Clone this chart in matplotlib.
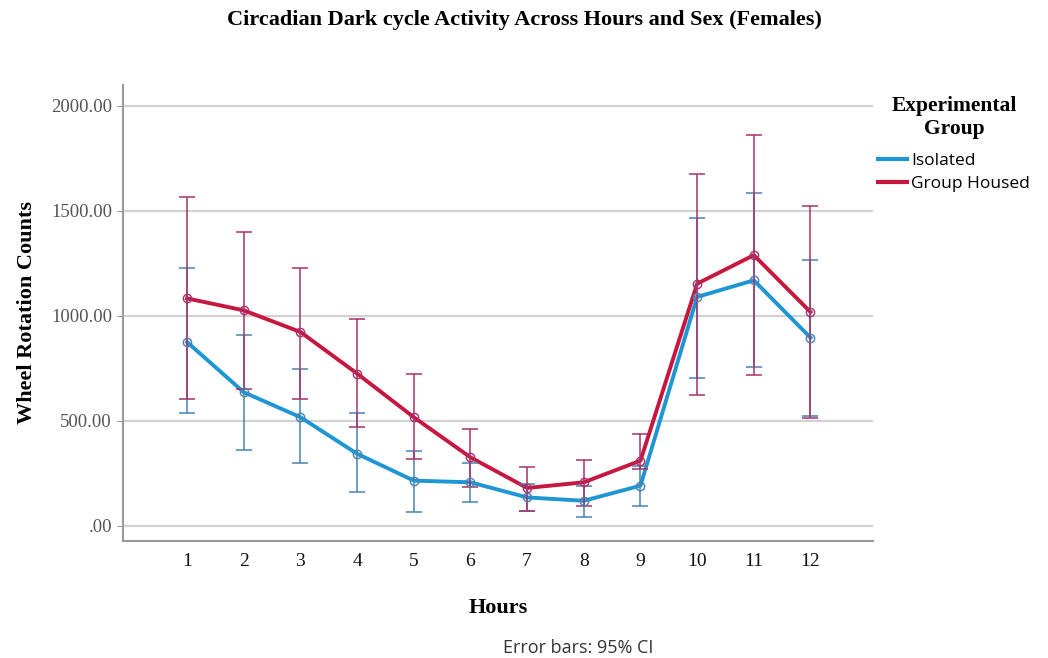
import matplotlib.pyplot as plt
import numpy as np

# wheel rotation counts per hour of the dark cycle, females
hours = np.arange(1, 13)
hour_labels = [str(h) for h in hours]

iso_mean = [875, 636, 517, 343, 215, 207, 135, 119, 191, 1090, 1169, 896]
iso_lo = [535, 363, 297, 159, 66, 111, 70, 40, 95, 705, 756, 525]
iso_hi = [1227, 907, 749, 535, 358, 300, 200, 190, 285, 1468, 1583, 1265]

grp_mean = [1083, 1026, 923, 725, 517, 326, 180, 207, 310, 1153, 1289, 1018]
grp_lo = [606, 652, 606, 469, 320, 187, 72, 95, 272, 625, 716, 514]
grp_hi = [1567, 1400, 1228, 983, 725, 463, 281, 315, 435, 1675, 1862, 1524]

yticks = [0, 500, 1000, 1500, 2000]
ytick_labels = ['.00', '500.00', '1000.00', '1500.00', '2000.00']

serif = 'Liberation Serif'
sans = 'Open Sans'

fig = plt.figure(figsize=(10.48, 6.58), dpi=100)
ax = fig.add_axes([0.1174, 0.178, 0.716, 0.693])

series = [
    ('Isolated', iso_mean, iso_lo, iso_hi, '#1f96d4', '#4682b4'),
    ('Group Housed', grp_mean, grp_lo, grp_hi, '#c8173f', '#a8326a'),
]

for i, (name, m, lo, hi, col, ecol) in enumerate(series):
    m = np.array(m, dtype=float)
    err = np.vstack([m - np.array(lo), np.array(hi) - m])
    ax.plot(hours, m, color=col, lw=2.8, label=name, zorder=3 + i,
            solid_joinstyle='round')
    ax.errorbar(hours, m, yerr=err, fmt='none', ecolor=ecol, elinewidth=1.1,
                capsize=6, capthick=1.1, zorder=5 + i)
    ax.plot(hours, m, 'o', ms=6, mfc='none', mec=ecol, mew=1.0, zorder=7)

ax.set_xlim(-0.13, 13.11)
ax.set_ylim(-72, 2100)
ax.set_xticks(hours)
ax.set_xticklabels(hour_labels, fontfamily=serif, fontsize=14, color='#111111')
ax.set_yticks(yticks)
ax.set_yticklabels(ytick_labels, fontfamily=serif, fontsize=13.5, color='#555555')
ax.tick_params(axis='x', length=0, pad=9)
ax.tick_params(axis='y', length=4, color='#999999', pad=4)

ax.grid(axis='y', color='#d2d2d2', lw=1.6)
ax.set_axisbelow(True)
for s in ['top', 'right']:
    ax.spines[s].set_visible(False)
for s in ['left', 'bottom']:
    ax.spines[s].set_color('#999999')
    ax.spines[s].set_linewidth(1.5)

ax.set_xlabel('Hours', fontfamily=serif, fontweight='bold', fontsize=16, labelpad=20)
ax.set_ylabel('Wheel Rotation Counts', fontfamily=serif, fontweight='bold',
              fontsize=16, labelpad=10)

fig.suptitle('Circadian Dark cycle Activity Across Hours and Sex (Females)',
             x=0.5, y=0.985, fontfamily=serif, fontweight='bold', fontsize=16)

leg = fig.legend(loc='upper left', bbox_to_anchor=(862 / 1048, 1 - 80 / 658),
                 frameon=False, title='Experimental\nGroup', alignment='center',
                 handlelength=1.7, handletextpad=0.25, labelspacing=0.4,
                 prop={'family': sans, 'size': 12.5},
                 title_fontproperties={'family': serif, 'weight': 'bold', 'size': 15.5})
leg.get_title().set_multialignment('center')
leg._legend_box.sep = 10
for line in leg.get_lines():
    line.set_linewidth(3)

fig.text(578 / 1048, 1 - 648 / 658, 'Error bars: 95% CI', ha='center', va='center',
         fontfamily=sans, fontsize=13, color='#333333')

plt.savefig('out.png', dpi=100)
